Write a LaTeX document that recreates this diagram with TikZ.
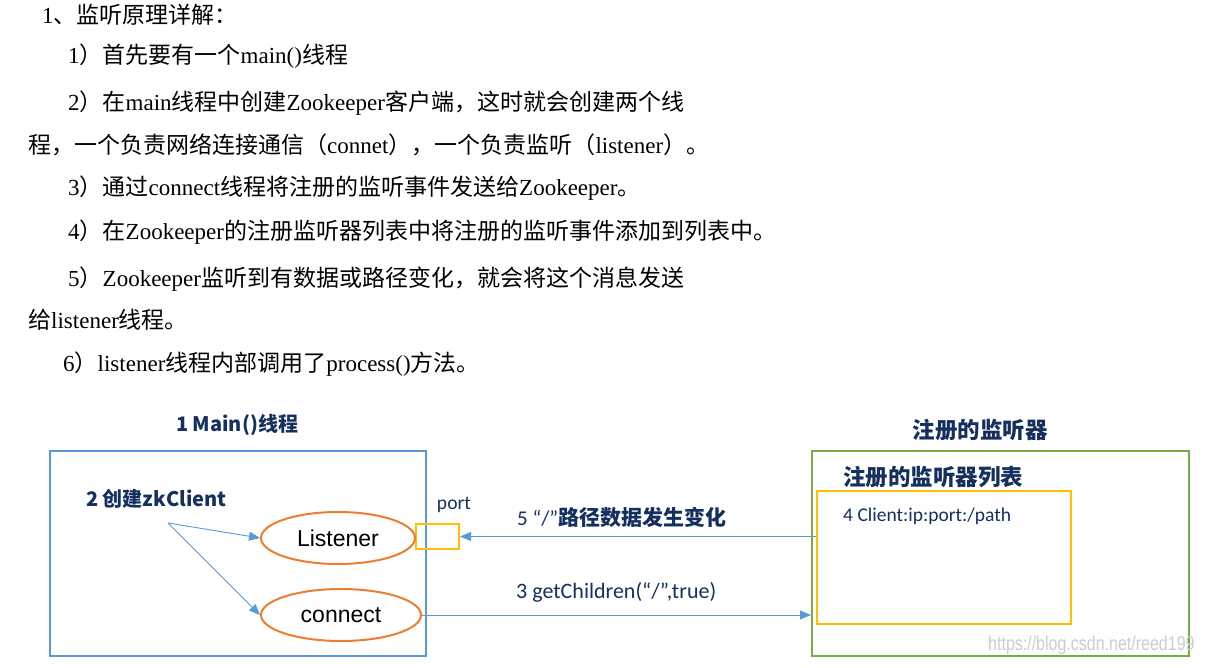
\documentclass[tikz,border=0pt]{standalone}
\usepackage{fontspec}
\setmainfont{Liberation Serif}
\newfontfamily\cjk{Noto Sans CJK SC}
\newfontfamily\arial{Liberation Sans}
\newfontfamily\calibri{Carlito}
\usetikzlibrary{arrows.meta,shapes.geometric}
\definecolor{navy}{HTML}{15305F}
\definecolor{lblue}{HTML}{5B9BD5}
\definecolor{lorange}{HTML}{ED7D31}
\definecolor{lyellow}{HTML}{FFC000}
\definecolor{lgreen}{HTML}{70AD47}
\newcommand{\C}[1]{{\cjk #1}}
\tikzset{
  para/.style={anchor=west,inner sep=0pt,font=\fontsize{23}{23}\selectfont,text=black},
  boxrect/.style={draw,line width=2pt,minimum width=#1,inner sep=0pt},
  title/.style={inner sep=0pt,text=navy,font=\cjk\bfseries\fontsize{20}{20}\selectfont},
  oval/.style={ellipse,draw=lorange,line width=2pt,inner sep=0pt,font=\arial\fontsize{23}{23}\selectfont},
  conn/.style={draw=lblue,line width=0.9pt,-{Triangle[length=11pt,width=9pt]}},
  lbl/.style={inner sep=0pt,text=navy,anchor=west}
}
\begin{document}
\begin{tikzpicture}[x=1pt,y=-1pt]
\useasboundingbox[fill=white] (0,0) rectangle (1208,668);
% text lines
\node[para] (l1) at (42,15) {1\C{、监听原理详解：}};
\node[para] (l2) at (68,56) {1\C{）首先要有一个}main()\C{线程}};
\node[para] (l3) at (68,103) {2\C{）在}main\C{线程中创建}Zookeeper\C{客户端，这时就会创建两个线}};
\node[para] (l4) at (28,145) {\C{程，一个负责网络连接通信（}connet\C{），一个负责监听（}listener\C{）。}};
\node[para] (l5) at (68,188) {3\C{）通过}connect\C{线程将注册的监听事件发送给}Zookeeper\C{。}};
\node[para] (l6) at (68,232) {4\C{）在}Zookeeper\C{的注册监听器列表中将注册的监听事件添加到列表中。}};
\node[para] (l7) at (68,279) {5\C{）}Zookeeper\C{监听到有数据或路径变化，就会将这个消息发送}};
\node[para] (l8) at (28,320) {\C{给}listener\C{线程。}};
\node[para] (l9) at (63,364) {6\C{）}listener\C{线程内部调用了}process()\C{方法。}};
% diagram
\node[boxrect=376pt,draw=lblue,minimum height=205pt] (main) at (238,553.5) {};
\node[boxrect=377pt,draw=lgreen,minimum height=205pt] (reg) at (1000.5,553.5) {};
\node[boxrect=254pt,draw=lyellow,minimum height=133pt] (list) at (944,557.5) {};
\node[boxrect=43pt,draw=lyellow,minimum height=25pt] (port) at (437.5,536.5) {};
\node[oval,minimum width=154pt,minimum height=52pt] (lis) at (338,538) {Listener};
\node[oval,minimum width=160pt,minimum height=52pt] (con) at (341,615) {connect};
\node[title] (t1) at (237,425) {1 Main()线程};
\node[title,font=\cjk\bfseries\fontsize{22.5}{22.5}\selectfont] (t2) at (980,430) {注册的监听器};
\node[title,anchor=west,font=\cjk\bfseries\fontsize{22.5}{22.5}\selectfont] (t3) at (843,477) {注册的监听器列表};
\node[title,anchor=west] (t4) at (86,499) {2 创建zkClient};
\node[lbl,anchor=center,font=\calibri\fontsize{19.6}{19.6}\selectfont] (pl) at (454,505) {port};
\node[lbl,font=\calibri\fontsize{19.5}{19.5}\selectfont] (cl) at (843,516) {4 Client:ip:port:/path};
\node[lbl,font=\calibri\fontsize{21}{21}\selectfont] (l5a) at (517,517) {5 “/”\C{\bfseries\fontsize{21}{21}\selectfont 路径数据发生变化}};
\node[lbl,font=\calibri\fontsize{22}{22}\selectfont] (l3a) at (516,592) {3 getChildren(“/”,true)};
\coordinate (zk) at (168,523);
\draw[conn] (zk) -- (lis.west);
\draw[conn] (zk) -- (con.west);
\draw[conn] (list.west |- port.east) -- (port.east);
\draw[conn] (con.east) -- (con.east -| reg.west);
% watermark
\node[anchor=west,inner sep=0pt,text=black!20,font=\arial\fontsize{20}{20}\selectfont] (wm) at (988,645) {\scalebox{0.8}[1]{https://blog.csdn.net/reed199}};
\end{tikzpicture}
\end{document}
